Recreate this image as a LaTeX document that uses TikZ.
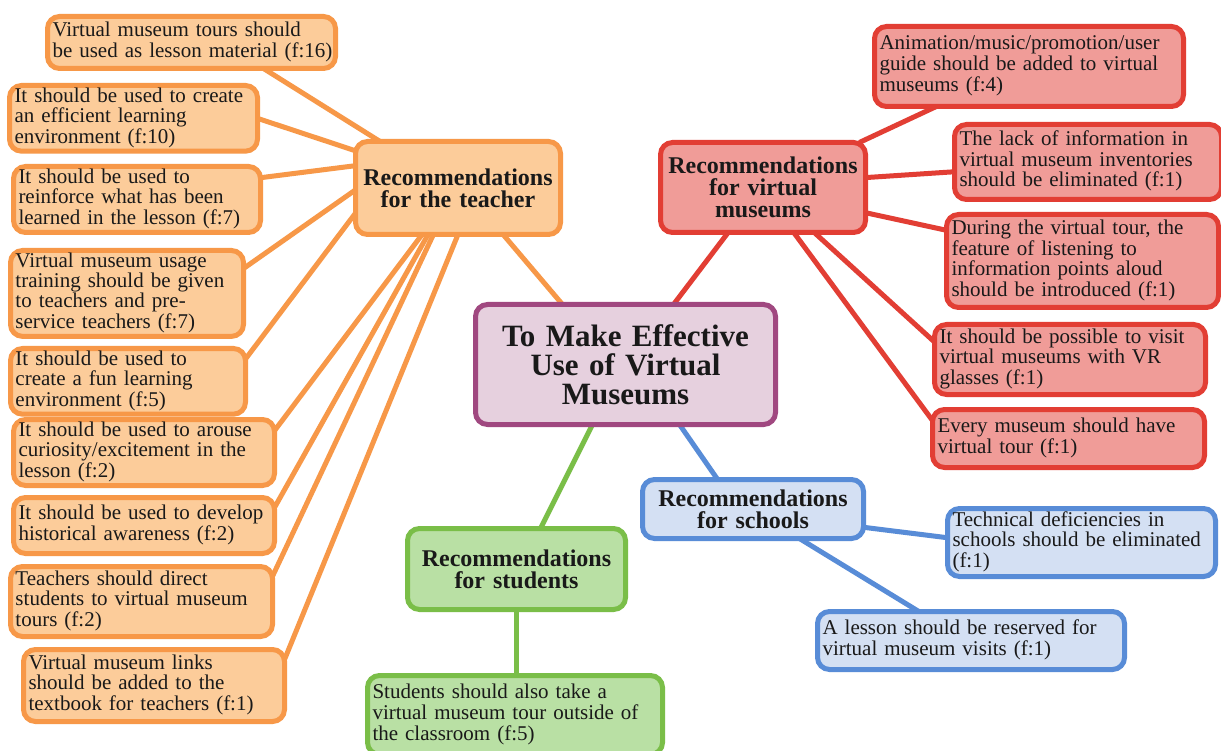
\documentclass[tikz,border=0pt]{standalone}
\usepackage{fontspec}
\setmainfont{Liberation Serif}
\usetikzlibrary{calc,backgrounds}

\definecolor{orFill}{RGB}{252,204,154}
\definecolor{orLine}{RGB}{247,152,72}
\definecolor{rdFill}{RGB}{240,156,152}
\definecolor{rdLine}{RGB}{226,62,52}
\definecolor{puFill}{RGB}{230,208,222}
\definecolor{puLine}{RGB}{160,72,128}
\definecolor{grFill}{RGB}{185,224,164}
\definecolor{grLine}{RGB}{122,190,72}
\definecolor{blFill}{RGB}{212,224,243}
\definecolor{blLine}{RGB}{88,140,215}
\definecolor{ink}{RGB}{25,25,25}

\tikzset{
  box/.style={rounded corners=12pt, line width=5pt, inner xsep=5pt, inner ysep=2pt,
    outer sep=0pt, align=left, text=ink, font=\fontsize{21}{19.5}\selectfont},
  hub/.style={box, align=center, font=\bfseries\fontsize{24}{22}\selectfont},
  core/.style={box, align=center, font=\bfseries\fontsize{31}{29}\selectfont},
  orbox/.style={draw=orLine, fill=orFill},
  rdbox/.style={draw=rdLine, fill=rdFill},
  pubox/.style={draw=puLine, fill=puFill},
  grbox/.style={draw=grLine, fill=grFill},
  blbox/.style={draw=blLine, fill=blFill},
  link/.style={line width=5pt},
}

% lines of a leaf text, kept as typed (no re-wrapping)
\newcommand\mmtext[1]{\begin{tabular}{@{}l@{}}#1\end{tabular}}

% #1 style, #2 name, #3/#4 top-left corner, #5/#6 outer size, #7 text
\newcommand\mmnode[7]{%
  \pgfmathsetmacro\mmw{#5-5}%
  \pgfmathsetmacro\mmh{#6-5}%
  \pgfmathsetmacro\mmt{#5-15}%
  \node[#1, anchor=north west, minimum width=\mmw pt, minimum height=\mmh pt,
        text width=\mmt pt] (#2) at (#3+2.5,#4+2.5) {#7};}

\begin{document}
\begin{tikzpicture}[x=1pt,y=-1pt]
\useasboundingbox (0,0) rectangle (1221,751);

% centre
\mmnode{core,pubox}{ctr}{473}{302}{305}{125}{To Make Effective\\Use of Virtual\\Museums}

% teacher branch
\mmnode{hub,orbox}{hubT}{353}{139}{210}{98}{Recommendations\\for the teacher}
\mmnode{box,orbox}{t1}{45}{14}{293}{57}{\mmtext{Virtual museum tours should\\be used as lesson material (f:16)}}
\mmnode{box,orbox}{t2}{7}{83}{253}{70}{\mmtext{It should be used to create\\an efficient learning\\environment (f:10)}}
\mmnode{box,orbox}{t3}{11}{164}{252}{71}{\mmtext{It should be used to\\reinforce what has been\\learned in the lesson (f:7)}}
\mmnode{box,orbox}{t4}{8}{248}{238}{89}{\mmtext{Virtual museum usage\\training should be given\\to teachers and pre-\\service teachers (f:7)}}
\mmnode{box,orbox}{t5}{8}{346}{240}{66}{\mmtext{It should be used to\\create a fun learning\\environment (f:5)}}
\mmnode{box,orbox}{t6}{11}{417}{266}{71}{\mmtext{It should be used to arouse\\curiosity/excitement in the\\lesson (f:2)}}
\mmnode{box,orbox}{t7}{11}{495}{266}{61}{\mmtext{It should be used to develop\\historical awareness (f:2)}}
\mmnode{box,orbox}{t8}{8}{564}{267}{75}{\mmtext{Teachers should direct\\students to virtual museum\\tours (f:2)}}
\mmnode{box,orbox}{t9}{21}{647}{266}{77}{\mmtext{Virtual museum links\\should be added to the\\textbook for teachers (f:1)}}

% virtual museum branch
\mmnode{hub,rdbox}{hubV}{658}{140}{210}{95}{Recommendations\\for virtual\\museums}
\mmnode{box,rdbox}{r1}{872}{24}{314}{85}{\mmtext{Animation/music/promotion/user\\guide should be added to virtual\\museums (f:4)}}
\mmnode{box,rdbox}{r2}{952}{122}{272}{80}{\mmtext{The lack of information in\\virtual museum inventories\\should be eliminated (f:1)}}
\mmnode{box,rdbox}{r3}{944}{212}{277}{98}{\mmtext{During the virtual tour, the\\feature of listening to\\information points aloud\\should be introduced (f:1)}}
\mmnode{box,rdbox}{r4}{932}{322}{276}{75}{\mmtext{It should be possible to visit\\virtual museums with VR\\glasses (f:1)}}
\mmnode{box,rdbox}{r5}{930}{407}{277}{63}{\mmtext{Every museum should have\\virtual tour (f:1)}}

% schools branch
\mmnode{hub,blbox}{hubS}{640}{477}{226}{64}{Recommendations\\for schools}
\mmnode{box,blbox}{s1}{945}{506}{273}{73}{\mmtext{Technical deficiencies in\\schools should be eliminated\\(f:1)}}
\mmnode{box,blbox}{s2}{815}{609}{312}{63}{\mmtext{A lesson should be reserved for\\virtual museum visits (f:1)}}

% students branch
\mmnode{hub,grbox}{hubG}{405}{526}{223}{86}{Recommendations\\for students}
\mmnode{box,grbox}{g1}{365}{673}{300}{84}{\mmtext{Students should also take a\\virtual museum tour outside of\\the classroom (f:5)}}

\begin{scope}[on background layer]
  \fill[white] (0,0) rectangle (1221,751);

  % centre to hubs
  \draw[link, orLine] ($(ctr.north west)!0.29!(ctr.north east)$) -- ($(hubT.south west)!0.72!(hubT.south east)$);
  \draw[link, rdLine] ($(ctr.north west)!0.66!(ctr.north east)$) -- ($(hubV.south west)!0.33!(hubV.south east)$);
  \draw[link, blLine] ($(ctr.south west)!0.68!(ctr.south east)$) -- ($(hubS.north west)!0.34!(hubS.north east)$);
  \draw[link, grLine] ($(ctr.south west)!0.39!(ctr.south east)$) -- ($(hubG.north west)!0.61!(hubG.north east)$);

  % teacher leaves
  \begin{scope}[link, orLine]
    \draw ($(hubT.north west)!0.12!(hubT.north east)$) -- ($(t1.south west)!0.75!(t1.south east)$);
    \draw ($(hubT.north west)!0.10!(hubT.south west)$) -- (t2.east);
    \draw ($(hubT.north west)!0.26!(hubT.south west)$) -- ($(t3.north east)!0.17!(t3.south east)$);
    \draw ($(hubT.north west)!0.52!(hubT.south west)$) -- ($(t4.north east)!0.21!(t4.south east)$);
    \draw ($(hubT.north west)!0.77!(hubT.south west)$) -- ($(t5.north east)!0.16!(t5.south east)$);
    \draw ($(hubT.south west)!0.325!(hubT.south east)$) -- ($(t6.north east)!0.17!(t6.south east)$);
    \draw ($(hubT.south west)!0.354!(hubT.south east)$) -- ($(t7.north east)!0.18!(t7.south east)$);
    \draw ($(hubT.south west)!0.38!(hubT.south east)$) -- ($(t8.north east)!0.14!(t8.south east)$);
    \draw (hubT.south) -- ($(t9.north east)!0.14!(t9.south east)$);
  \end{scope}

  % virtual museum leaves
  \begin{scope}[link, rdLine]
    \draw ($(hubV.north west)!0.97!(hubV.north east)$) -- ($(r1.south west)!0.2!(r1.south east)$);
    \draw ($(hubV.north east)!0.39!(hubV.south east)$) -- ($(r2.north west)!0.63!(r2.south west)$);
    \draw ($(hubV.north east)!0.78!(hubV.south east)$) -- ($(r3.north west)!0.17!(r3.south west)$);
    \draw ($(hubV.south west)!0.75!(hubV.south east)$) -- ($(r4.north west)!0.25!(r4.south west)$);
    \draw ($(hubV.south west)!0.65!(hubV.south east)$) -- ($(r5.north west)!0.19!(r5.south west)$);
  \end{scope}

  % school leaves
  \begin{scope}[link, blLine]
    \draw ($(hubS.north east)!0.81!(hubS.south east)$) -- ($(s1.north west)!0.43!(s1.south west)$);
    \draw ($(hubS.south west)!0.71!(hubS.south east)$) -- ($(s2.north west)!0.33!(s2.north east)$);
  \end{scope}

  % student leaf
  \draw[link, grLine] (hubG.south) -- (hubG.south |- g1.north);
\end{scope}
\end{tikzpicture}
\end{document}
